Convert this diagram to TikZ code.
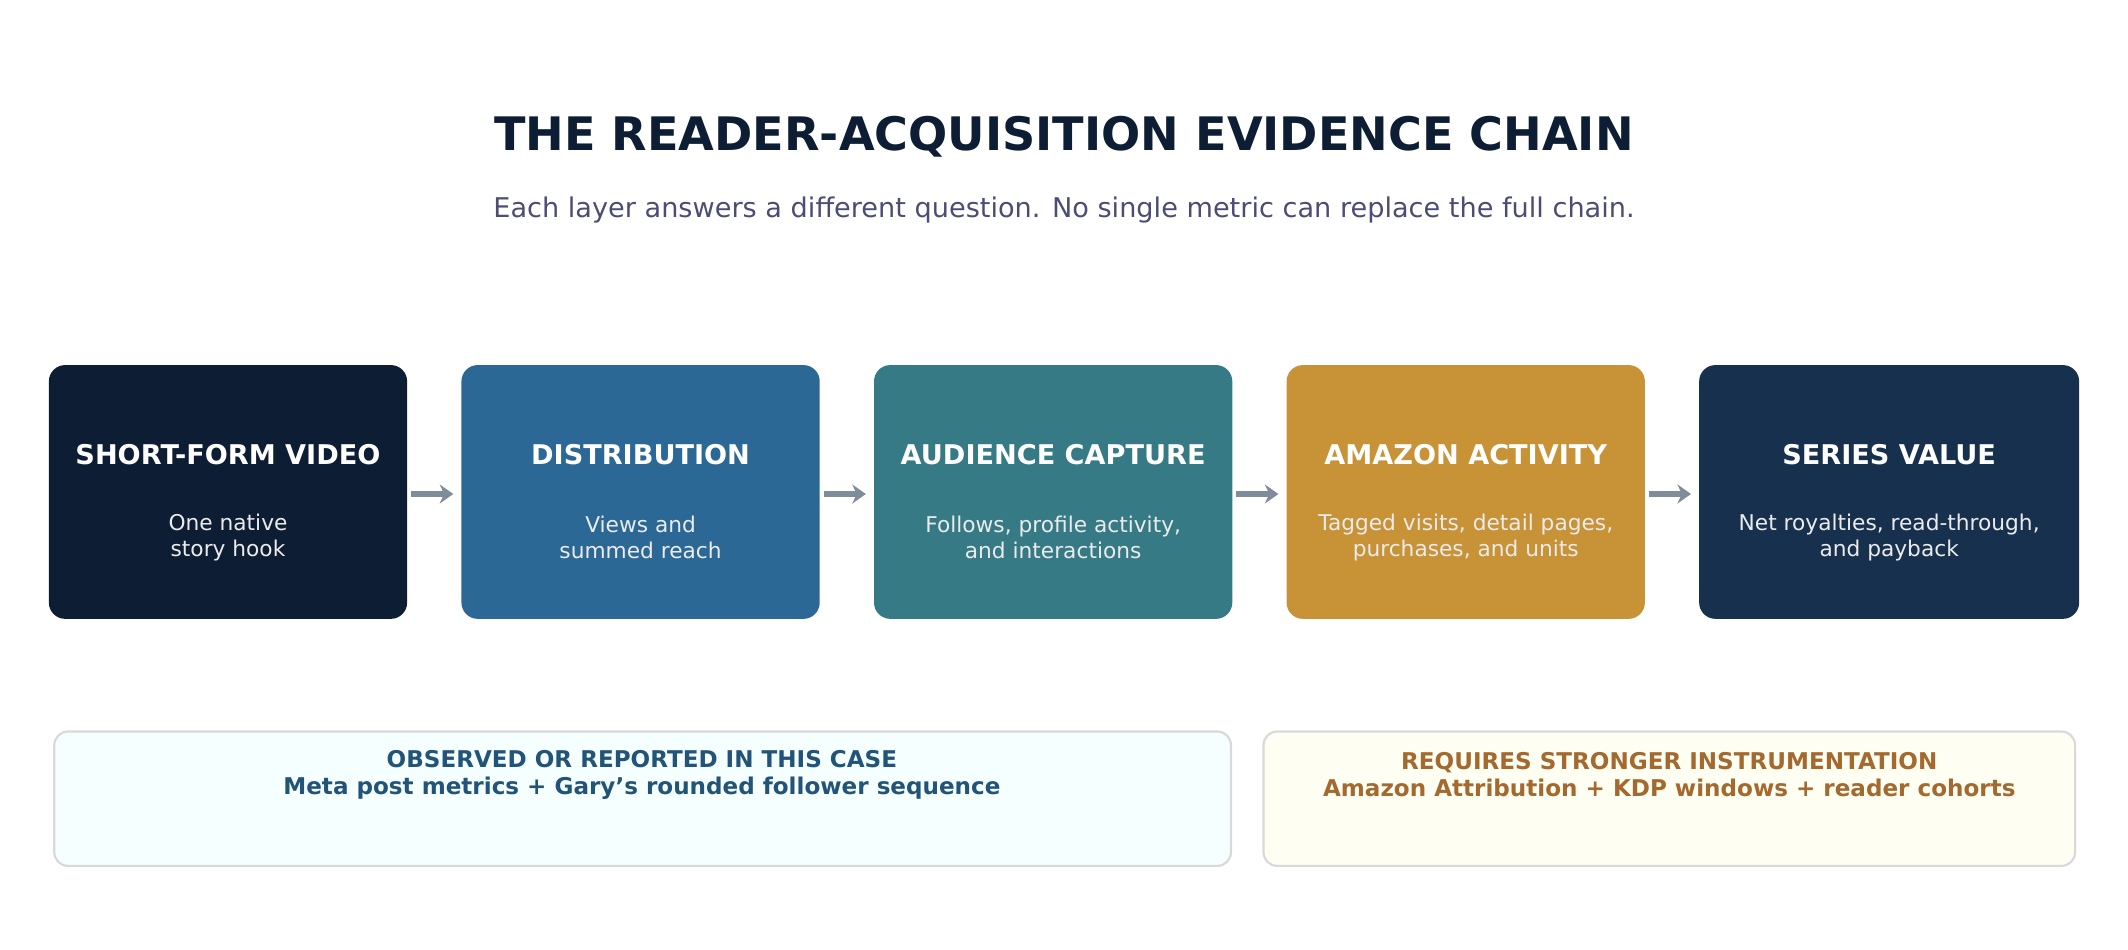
\documentclass[tikz,border=0pt]{standalone}
\usepackage{fontspec}
\usetikzlibrary{arrows.meta}
\setmainfont{DejaVu Sans}
\begin{document}
\begin{tikzpicture}[x=0.5pt,y=-0.5pt,
 box/.style={rounded corners=6pt,draw=none},
 ttl/.style={text=white,font=\bfseries\fontsize{10}{12}\selectfont},
 dsc/.style={text=white!92!black,font=\fontsize{8}{9.6}\selectfont,align=center},
 arr/.style={line width=2pt,-{Stealth[length=5pt,width=7pt]}}]
\useasboundingbox (0,0) rectangle (1568,700);
\definecolor{c1}{HTML}{0D1D33}\definecolor{c2}{HTML}{2B6896}\definecolor{c3}{HTML}{357A84}
\definecolor{c4}{HTML}{C89236}\definecolor{c5}{HTML}{17304E}\definecolor{ar}{HTML}{7F8C9A}
\node[text=c1,font=\bfseries\fontsize{17}{20}\selectfont] (t) at (784,101) {THE READER-ACQUISITION EVIDENCE CHAIN};
\node[text=black!60!blue!40!gray,font=\fontsize{10}{12}\selectfont] (s) at (784,155) {Each layer answers a different question. No single metric can replace the full chain.};
\foreach \n/\a/\b/\c/\T/\D in {1/36/300/c1/SHORT-FORM VIDEO/{One native\\story hook},2/340/604/c2/DISTRIBUTION/{Views and\\summed reach},3/644/908/c3/AUDIENCE CAPTURE/{Follows, profile activity,\\and interactions},4/948/1212/c4/AMAZON ACTIVITY/{Tagged visits, detail pages,\\purchases, and units},5/1252/1532/c5/SERIES VALUE/{Net royalties, read-through,\\and payback}}{
 \fill[box,fill=\c] (\a,269) rectangle (\b,456);
 \coordinate (b\n) at ({(\a+\b)/2},364);
 \coordinate (l\n) at (\a,364); \coordinate (r\n) at (\b,364);
 \node[ttl] (h\n) at ({(\a+\b)/2},335) {\T};
 \node[dsc] (d\n) at ({(\a+\b)/2},396) {\D};
}
\foreach \i/\j in {1/2,2/3,3/4,4/5}{\draw[arr,draw=ar] ([xshift=1.5pt]r\i) -- ([xshift=-3pt]l\j);}
\draw[rounded corners=5pt,fill=blue!3!cyan!4,draw=gray!30,line width=0.8pt] (40,539) rectangle (907,638);
\draw[rounded corners=5pt,fill=orange!8!yellow!5,draw=gray!30,line width=0.8pt] (931,539) rectangle (1529,638);
\node[text=c2!80!black,font=\bfseries\fontsize{8.5}{10}\selectfont,align=center] (o) at (473,571) {OBSERVED OR REPORTED IN THIS CASE\\Meta post metrics + Gary's rounded follower sequence};
\node[text=brown!80!black!90!orange,font=\bfseries\fontsize{8.5}{10}\selectfont,align=center] (r) at (1230,571) {REQUIRES STRONGER INSTRUMENTATION\\Amazon Attribution + KDP windows + reader cohorts};
\end{tikzpicture}
\end{document}
